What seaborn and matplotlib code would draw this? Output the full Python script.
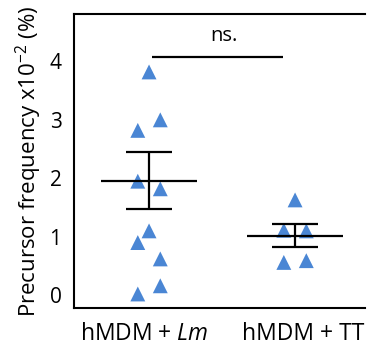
import numpy as np
import pandas as pd
import matplotlib
matplotlib.use('Agg')
import matplotlib.pyplot as plt
import seaborn as sns

groups = ['hMDM + Lm', 'hMDM + TT']
tick_labels = ['hMDM + $\\it{Lm}$', 'hMDM + TT']

lm_values = [3.82, 3.0, 2.82, 1.95, 1.82, 1.1, 0.9, 0.62, 0.16, 0.02]
lm_column = [0, 1, -1, -1, 1, 0, -1, 1, 1, -1]
tt_values = [1.63, 1.11, 1.10, 0.56, 0.59]
tt_column = [0, -1, 1, -1, 1]

group_mean = [1.96, 1.02]
group_sem = [0.49, 0.20]

sig_y = 4.07
sig_label = 'ns.'

sns.set_style('white')
plt.rcParams['font.family'] = ['Open Sans', 'DejaVu Sans']
plt.rcParams['mathtext.fontset'] = 'custom'
plt.rcParams['mathtext.rm'] = 'Open Sans'
plt.rcParams['mathtext.it'] = 'Open Sans:italic'
plt.rcParams['text.color'] = 'black'
plt.rcParams['axes.labelcolor'] = 'black'
plt.rcParams['xtick.color'] = 'black'
plt.rcParams['ytick.color'] = 'black'

df = pd.DataFrame({
    'group': [groups[0]] * len(lm_values) + [groups[1]] * len(tt_values),
    'value': lm_values + tt_values,
    'column': lm_column + tt_column,
})
df['pos'] = df['group'].map({g: i for i, g in enumerate(groups)}) + df['column'] * 0.077

fig = plt.figure(figsize=(3.67, 3.47), dpi=100)
# stop just short of the right edge: the original crop cuts the box open there
ax = fig.add_axes([0.2016, 0.1124, 0.793, 0.847])

sns.scatterplot(data=df, x='pos', y='value', marker='^', s=115,
                color='#4a86d4', edgecolor='none', ax=ax, zorder=2)

for i, (m, e) in enumerate(zip(group_mean, group_sem)):
    ax.hlines(m, i - 0.33, i + 0.33, color='black', lw=1.6, zorder=3)
    ax.hlines([m - e, m + e], i - 0.155, i + 0.155, color='black', lw=1.6, zorder=3)
    ax.vlines(i, m - e, m + e, color='black', lw=1.6, zorder=3)

ax.hlines(sig_y, 0.02, 0.92, color='black', lw=1.6)
ax.text(0.51, sig_y + 0.2, sig_label, ha='center', va='bottom', fontsize=14.5)

ax.set_xlim(-0.514, 1.479)
ax.set_ylim(-0.22, 4.81)
# labels sit slightly off the group centres in the original
ax.set_xticks([-0.03, 1.055])
ax.set_xticklabels(tick_labels, fontsize=16.5)
ax.set_yticks([0, 1, 2, 3, 4])
ax.set_yticklabels(['0', '1', '2', '3', '4'], fontsize=15)
ax.tick_params(axis='both', length=0)
ax.tick_params(axis='x', pad=10)
ax.tick_params(axis='y', pad=9)
ax.set_xlabel('')
ax.set_ylabel('Precursor frequency x10$^{-2}$ (%)', fontsize=16, labelpad=4)

for side in ['left', 'top', 'bottom']:
    ax.spines[side].set_color('black')
    ax.spines[side].set_linewidth(1.5)
ax.spines['right'].set_visible(False)

plt.savefig('out.png', dpi=100)
